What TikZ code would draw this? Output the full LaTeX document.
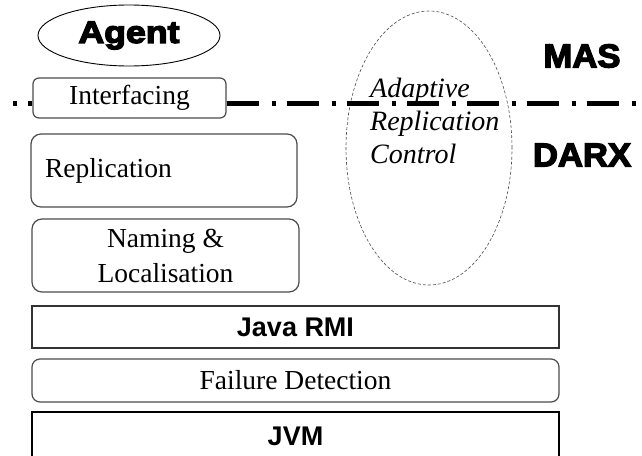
\documentclass[tikz,border=0pt]{standalone}
\usepackage{fontspec}
\setmainfont{Liberation Serif}
\newfontfamily\arialb{Liberation Sans Bold}
\newfontfamily\heavy[FakeBold=4,FakeStretch=1.05]{Liberation Sans Bold}
\newfontfamily\heavyw[FakeBold=4.5,FakeStretch=1.15]{Liberation Sans Bold}
\usetikzlibrary{shapes.geometric}
\tikzset{
  rbox/.style={draw=black!70, line width=1.2pt, rounded corners=#1, fill=white, inner sep=0pt,
    font=\fontsize{27.5}{35}\selectfont},
  sbox/.style={draw=black!80, line width=1.5pt, fill=white, inner sep=0pt,
    font=\arialb\fontsize{27}{33}\selectfont},
  sepline/.style={line width=4.5pt, black},
  layerlabel/.style={inner sep=0pt, font=\heavy\fontsize{33}{36}\selectfont},
}
\begin{document}
\begin{tikzpicture}[x=1pt,y=-1pt]
\useasboundingbox (0,0) rectangle (642,455);
\clip (0,0) rectangle (642,455);
% Adaptive replication control
\node[ellipse, draw=black!70, densely dashed, line width=0.6pt, minimum width=166pt, minimum height=274pt, inner sep=0pt] (arc) at (429,148) {};
\node[anchor=north west, align=left, inner sep=0pt, font=\itshape\fontsize{28}{33}\selectfont] (arct) at (370,78) {Adaptive\\Replication\\Control};
% agent
\node[ellipse, draw, line width=0.9pt, minimum width=182pt, minimum height=61pt, inner sep=0pt,
  font=\heavyw\fontsize{31}{32}\selectfont] (agent) at (129,35.5) {Agent};
% interfacing box
\node[rbox=6pt, minimum width=193pt, minimum height=40pt] (ifc) at (129.5,98) {Interfacing};
% separator line
\coordinate (l0) at (13,103.5);
\coordinate (l1) at (642,103.5);
\draw[sepline, dash pattern=on 4pt off 11pt on 32pt off 13pt] (l0) -- (l0 -| ifc.west);
\draw[sepline, dash pattern=on 32pt off 13pt on 4pt off 11pt] (l1 -| ifc.east) -- (l1);
% layer labels
\node[layerlabel] (mas) at (582,56) {MAS};
\node[layerlabel] (darx) at (582,155) {DARX};
% DARX boxes
\node[rbox=10pt, minimum width=266pt, minimum height=73pt, text width=238pt, align=left] (rep) at (164,170.5) {Replication};
\node[rbox=10pt, minimum width=267pt, minimum height=73pt, align=center] (nam) at (165.5,255.5) {Naming \&\\Localisation};
\node[sbox, minimum width=527pt, minimum height=42pt] (rmi) at (295.5,327) {Java RMI};
\node[rbox=8pt, minimum width=527pt, minimum height=43pt] (fd) at (295.5,380.5) {Failure Detection};
\node[sbox, draw=black, minimum width=527pt, minimum height=52pt] (jvm) at (295.5,438) {\raisebox{4pt}{JVM}};
\end{tikzpicture}
\end{document}
